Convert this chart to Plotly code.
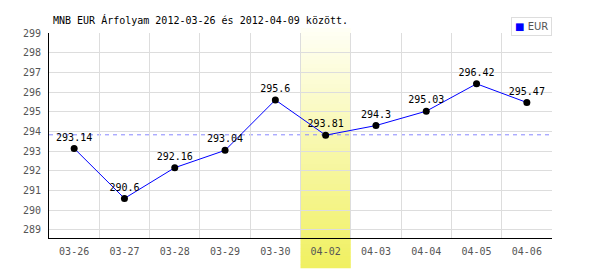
import plotly.graph_objects as go

# ---- data ----
dates = ["03-26", "03-27", "03-28", "03-29", "03-30", "04-02", "04-03", "04-04", "04-05", "04-06"]
eur = [293.14, 290.6, 292.16, 293.04, 295.6, 293.81, 294.3, 295.03, 296.42, 295.47]
point_labels = ["293.14", "290.6", "292.16", "293.04", "295.6", "293.81", "294.3", "295.03", "296.42", "295.47"]
y_ticks = [289, 290, 291, 292, 293, 294, 295, 296, 297, 298, 299]
avg_value = 293.83
highlight_cat = "04-02"
title_text = "MNB EUR Árfolyam 2012-03-26 és 2012-04-09 között."
series_name = "EUR"

# ---- layout constants ----
W, H = 600, 270
ML, MR, MT, MB = 49, 48, 33, 32
plot_h = H - MT - MB
mono = "DejaVu Sans Mono"

fig = go.Figure()
fig.add_trace(go.Scatter(
    x=dates, y=eur, mode="lines+markers+text",
    text=point_labels, textposition="top center",
    textfont=dict(family=mono, size=10, color="#000000"),
    line=dict(color="#0000ff", width=1),
    marker=dict(color="#000000", size=7),
    name=series_name, showlegend=False, cliponaxis=False,
))

shapes = []
# gradient highlight (stacked strips)
idx = dates.index(highlight_cat)
top_px, bot_px = 28, 268
y_top = 1 + (MT - top_px) / plot_h
y_bot = -(bot_px - (H - MB)) / plot_h
n = 60
c_top = (255, 255, 246)
c_bot = (240, 240, 96)
for i in range(n):
    f0 = i / n
    f1 = (i + 1) / n
    fm = (i + 0.5) / n
    col = tuple(round(c_top[k] + (c_bot[k] - c_top[k]) * fm) for k in range(3))
    shapes.append(dict(
        type="rect", xref="x", yref="paper",
        x0=idx - 0.5, x1=idx + 0.5,
        y0=y_top - (y_top - y_bot) * f1 - 0.001, y1=y_top - (y_top - y_bot) * f0,
        fillcolor="rgb(%d,%d,%d)" % col, line=dict(width=0), layer="between",
    ))
# average dashed line
shapes.append(dict(
    type="line", xref="paper", yref="y", x0=0, x1=1, y0=avg_value, y1=avg_value,
    line=dict(color="#8888ff", width=1, dash="4px,4px"), layer="between",
))

fig.update_layout(
    width=W, height=H,
    margin=dict(l=ML, r=MR, t=MT, b=MB, pad=0),
    paper_bgcolor="#ffffff", plot_bgcolor="#ffffff",
    showlegend=False,
    shapes=shapes,
    title=dict(
        text=title_text, xref="container", yref="container",
        x=53 / W, xanchor="left", y=1 - 20 / H, yanchor="middle",
        font=dict(family=mono, size=10, color="#000000"),
    ),
    xaxis=dict(
        type="category", categoryorder="array", categoryarray=dates,
        range=[-0.5, len(dates) - 0.5], tickson="boundaries",
        showgrid=True, gridcolor="#dddddd", gridwidth=1,
        showline=True, linecolor="#000000", linewidth=1,
        ticks="", ticklabelstandoff=4,
        tickfont=dict(family=mono, size=10, color="#555555"),
        zeroline=False, fixedrange=True,
    ),
    yaxis=dict(
        range=[288.59, 299.0], tickmode="array", tickvals=y_ticks,
        ticktext=[str(v) for v in y_ticks],
        showgrid=True, gridcolor="#dddddd", gridwidth=1,
        showline=True, linecolor="#000000", linewidth=1,
        ticks="", ticklabelstandoff=5,
        tickfont=dict(family=mono, size=10, color="#555555"),
        zeroline=False, fixedrange=True,
    ),
    annotations=[dict(
        xref="paper", yref="paper", x=1, xanchor="right",
        y=1 - 3 / plot_h, yanchor="bottom", showarrow=False,
        text='<span style="color:#0000ff">■</span> ' + series_name,
        font=dict(family="DejaVu Sans", size=10, color="#555555"),
        bordercolor="#dddddd", borderwidth=1, borderpad=3, bgcolor="#ffffff",
    )],
)

fig.write_html("out.html", config={"displayModeBar": False})
